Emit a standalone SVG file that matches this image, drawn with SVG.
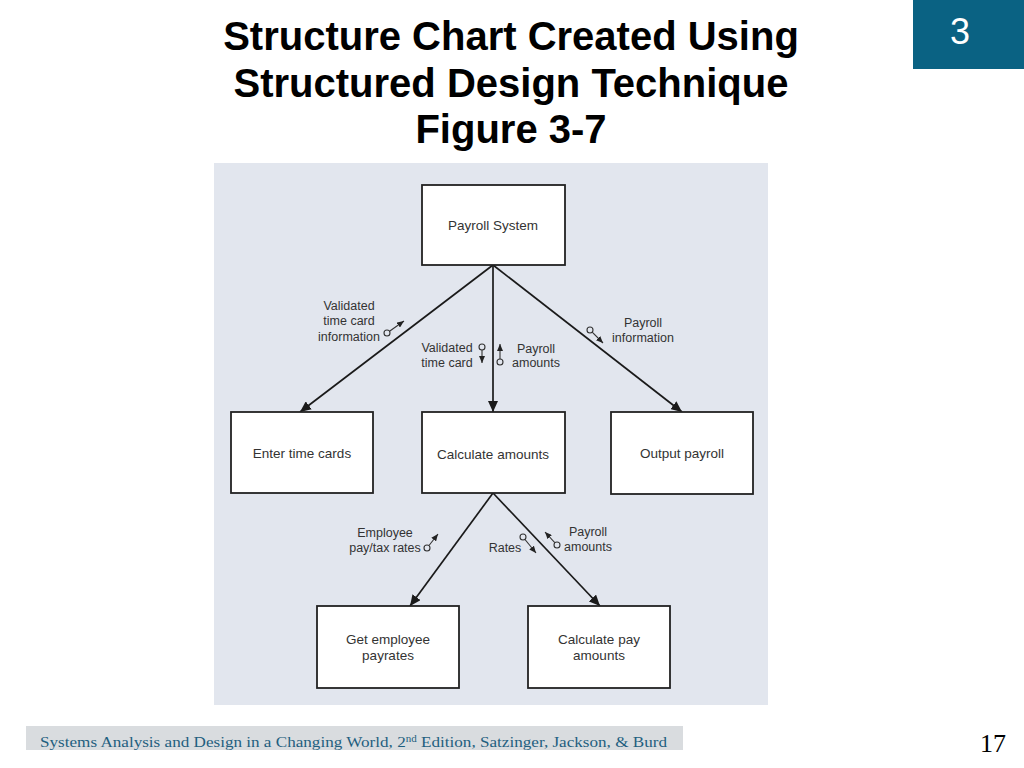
<svg xmlns="http://www.w3.org/2000/svg" width="1024" height="768" viewBox="0 0 1024 768">
<defs>
<style>
.title{font-family:"Liberation Sans",Arial,sans-serif;font-weight:bold;font-size:40px;fill:#000;text-anchor:middle}
.box{fill:#fff;stroke:#222;stroke-width:1.8}
.nt{font-family:"Liberation Sans",Arial,sans-serif;font-size:13.5px;fill:#333;text-anchor:middle}
.lb{font-family:"Liberation Sans",Arial,sans-serif;font-size:12.5px;fill:#333;text-anchor:middle}
.conn{stroke:#1a1a1a;stroke-width:1.7;fill:none}
.cp{stroke:#333;stroke-width:1.1;fill:none}
.cc{stroke:#333;stroke-width:1.1;fill:#e2e6ee}
</style>
<marker id="ah" markerUnits="userSpaceOnUse" markerWidth="12" markerHeight="10" refX="11" refY="5" orient="auto">
<path d="M0,0 L11,5 L0,10 Z" fill="#1a1a1a"/>
</marker>
<marker id="sh" markerUnits="userSpaceOnUse" markerWidth="7" markerHeight="6" refX="7" refY="3" orient="auto">
<path d="M0,0 L7,3 L0,6 Z" fill="#222"/>
</marker>
</defs>
<rect x="0" y="0" width="1024" height="768" fill="#fff"/>
<rect x="913" y="0" width="111" height="69" fill="#0a6283"/>
<text x="960" y="44" font-family="Liberation Sans,Arial,sans-serif" font-size="36" fill="#fff" text-anchor="middle">3</text>
<text class="title" x="511" y="50">Structure Chart Created Using</text>
<text class="title" x="511" y="97">Structured Design Technique</text>
<text class="title" x="511" y="143">Figure 3-7</text>
<rect x="214" y="163" width="554" height="542" fill="#e2e6ee"/>
<g id="connectors">
<path class="conn" d="M493,265 L300,412" marker-end="url(#ah)"/>
<path class="conn" d="M493,265 L493,412" marker-end="url(#ah)"/>
<path class="conn" d="M493,265 L682,412" marker-end="url(#ah)"/>
<path class="conn" d="M493,493 L410,606" marker-end="url(#ah)"/>
<path class="conn" d="M493,493 L600,606" marker-end="url(#ah)"/>
</g>
<g id="couples">
<path class="cp" d="M389.5,331.2 L404,321" marker-end="url(#sh)"/><circle class="cc" cx="387" cy="333" r="3"/>
<path class="cp" d="M482,350 L482,363" marker-end="url(#sh)"/><circle class="cc" cx="482" cy="347" r="3"/>
<path class="cp" d="M500,359 L500,344" marker-end="url(#sh)"/><circle class="cc" cx="500" cy="362" r="3"/>
<path class="cp" d="M592.2,332.2 L603,343" marker-end="url(#sh)"/><circle class="cc" cx="590" cy="330" r="3"/>
<path class="cp" d="M429,545.5 L438,534" marker-end="url(#sh)"/><circle class="cc" cx="427" cy="548" r="3"/>
<path class="cp" d="M525,539.5 L536,553" marker-end="url(#sh)"/><circle class="cc" cx="523" cy="537" r="3"/>
<path class="cp" d="M555,542.8 L545,532" marker-end="url(#sh)"/><circle class="cc" cx="557" cy="545" r="3"/>
</g>
<g id="labels">
<text class="lb" x="349" y="310">Validated</text>
<text class="lb" x="349" y="325">time card</text>
<text class="lb" x="349" y="341">information</text>
<text class="lb" x="447" y="352">Validated</text>
<text class="lb" x="447" y="367">time card</text>
<text class="lb" x="536" y="353">Payroll</text>
<text class="lb" x="536" y="367">amounts</text>
<text class="lb" x="643" y="327">Payroll</text>
<text class="lb" x="643" y="342">information</text>
<text class="lb" x="385" y="537">Employee</text>
<text class="lb" x="385" y="552">pay/tax rates</text>
<text class="lb" x="505" y="552">Rates</text>
<text class="lb" x="588" y="536">Payroll</text>
<text class="lb" x="588" y="551">amounts</text>
</g>
<g id="payroll-system"><rect class="box" x="422" y="185" width="143" height="80"/><text class="nt" x="493" y="230">Payroll System</text></g>
<g id="enter-time-cards"><rect class="box" x="231" y="412" width="142" height="81"/><text class="nt" x="302" y="458">Enter time cards</text></g>
<g id="calculate-amounts"><rect class="box" x="422" y="412" width="143" height="81"/><text class="nt" x="493" y="459">Calculate amounts</text></g>
<g id="output-payroll"><rect class="box" x="611" y="412" width="142" height="82"/><text class="nt" x="682" y="458">Output payroll</text></g>
<g id="get-employee-payrates"><rect class="box" x="317" y="606" width="142" height="82"/><text class="nt" x="388" y="644">Get employee</text><text class="nt" x="388" y="660">payrates</text></g>
<g id="calculate-pay-amounts"><rect class="box" x="528" y="606" width="142" height="82"/><text class="nt" x="599" y="644">Calculate pay</text><text class="nt" x="599" y="660">amounts</text></g>
<rect x="26" y="726" width="657" height="24" fill="#d9dcdf"/>
<text x="40" y="747" font-family="Liberation Serif,Times New Roman,serif" font-size="15.5" fill="#1f5f80" textLength="627" lengthAdjust="spacingAndGlyphs">Systems Analysis and Design in a Changing World, 2<tspan font-size="10" dy="-5">nd</tspan><tspan dy="5"> Edition, Satzinger, Jackson, &amp; Burd</tspan></text>
<text x="993" y="752" font-family="Liberation Serif,Times New Roman,serif" font-size="26" fill="#000" text-anchor="middle">17</text>
</svg>
